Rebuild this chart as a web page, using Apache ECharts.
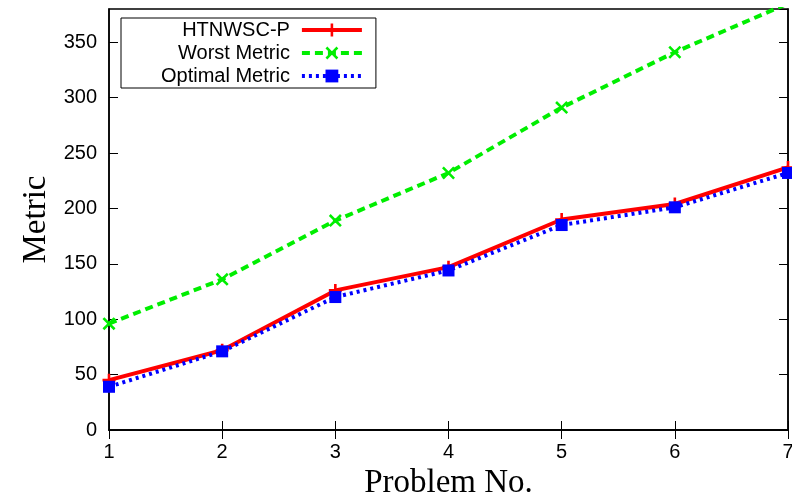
<!DOCTYPE html>
<html>
<head>
<meta charset="utf-8">
<script src="https://cdn.jsdelivr.net/npm/echarts@6/dist/echarts.min.js"></script>
<style>
  html, body { margin: 0; padding: 0; background: #fff; }
  #chart { width: 792px; height: 497px; }
</style>
</head>
<body>
<div id="chart"></div>
<script>
const problems = [1, 2, 3, 4, 5, 6, 7];
const htnwsc = [45, 72, 126, 147, 190, 204, 237];
const worst = [96, 136, 189, 232, 291, 341, 385];
const optimal = [39, 71, 120, 144, 185, 201, 232];
const yTicks = [0, 50, 100, 150, 200, 250, 300, 350];

const plusPath = 'path://M4,0H6V4H10V6H6V10H4V6H0V4H4Z';
const crossPath = 'path://M1.4,0L5,3.6L8.6,0L10,1.4L6.4,5L10,8.6L8.6,10L5,6.4L1.4,10L0,8.6L3.6,5L0,1.4Z';

const chart = echarts.init(document.getElementById('chart'));

const tickStyle = { inside: true, length: 9, lineStyle: { color: '#000', width: 1 } };
const labelFont = { fontFamily: 'Liberation Sans', fontSize: 20, color: '#000' };
const nameFont = { fontFamily: 'Liberation Serif', fontSize: 33, color: '#000' };

function toPairs(vals) {
  return problems.map((p, i) => [p, vals[i]]);
}

chart.setOption({
  animation: false,
  grid: {
    left: 109, right: 4, top: 9, bottom: 67,
    outerBoundsMode: 'none',
    show: true, borderColor: '#000', borderWidth: 1.5
  },
  legend: {
    left: 121, top: 18,
    orient: 'vertical',
    align: 'right',
    itemWidth: 60, itemHeight: 16, itemGap: 3,
    borderColor: '#000', borderWidth: 1,
    padding: [2, 12, 2, 40],
    lineStyle: { width: 4 },
    textStyle: Object.assign({}, labelFont, { padding: [0, 7, 0, 0] }),
    data: ['HTNWSC-P', 'Worst Metric', 'Optimal Metric']
  },
  xAxis: [{
    type: 'value', min: 1, max: 7, interval: 1,
    name: 'Problem No.', nameLocation: 'middle', nameGap: 34, nameTextStyle: nameFont,
    axisLine: { lineStyle: { color: '#000', width: 1.5 } },
    axisTick: tickStyle,
    axisLabel: Object.assign({ margin: 12 }, labelFont),
    splitLine: { show: false }
  }, {
    type: 'value', min: 1, max: 7, interval: 1, position: 'top',
    axisLine: { lineStyle: { color: '#000', width: 1.5 } },
    axisTick: tickStyle, axisLabel: { show: false }, splitLine: { show: false }
  }],
  yAxis: [{
    type: 'value', min: 0, max: 380, interval: 50,
    name: 'Metric', nameLocation: 'middle', nameGap: 55, nameTextStyle: nameFont,
    axisLine: { show: true, lineStyle: { color: '#000', width: 1.5 } },
    axisTick: tickStyle,
    axisLabel: Object.assign({
      margin: 12,
      showMaxLabel: false,
      formatter: v => yTicks.includes(v) ? String(v) : ''
    }, labelFont),
    splitLine: { show: false }
  }, {
    type: 'value', min: 0, max: 380, interval: 50, position: 'right',
    axisLine: { show: true, lineStyle: { color: '#000', width: 1.5 } },
    axisTick: tickStyle, axisLabel: { show: false }, splitLine: { show: false }
  }],
  series: [{
    name: 'HTNWSC-P', type: 'line', data: toPairs(htnwsc),
    symbol: plusPath, symbolSize: 13,
    lineStyle: { color: '#ff0000', width: 4 },
    itemStyle: { color: '#ff0000' }, z: 3
  }, {
    name: 'Worst Metric', type: 'line', data: toPairs(worst),
    symbol: crossPath, symbolSize: 13,
    lineStyle: { color: '#00ee00', width: 4, type: [8, 5] },
    itemStyle: { color: '#00ee00' }, z: 2
  }, {
    name: 'Optimal Metric', type: 'line', data: toPairs(optimal),
    symbol: 'rect', symbolSize: 12,
    lineStyle: { color: '#0000ff', width: 4, type: [3, 4] },
    itemStyle: { color: '#0000ff' }, z: 4
  }]
});
</script>
</body>
</html>
